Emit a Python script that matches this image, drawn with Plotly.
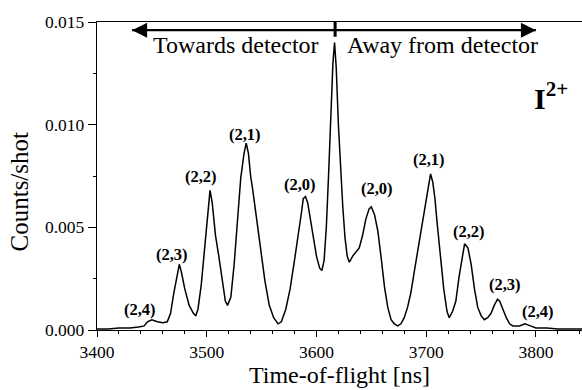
import plotly.graph_objects as go

# Time-of-flight spectrum of I2+ fragments
tof_ns = [3400, 3410, 3420, 3430, 3438, 3443, 3446, 3450, 3455, 3460, 3464, 3467,
          3470, 3473, 3475, 3477, 3480, 3484, 3488, 3490, 3492, 3495, 3498, 3501,
          3503, 3505, 3508, 3511, 3514, 3517, 3519, 3522, 3525, 3528, 3531, 3534,
          3536, 3538, 3540, 3542, 3545, 3549, 3553, 3557, 3561, 3565, 3568, 3572,
          3576, 3580, 3583, 3586, 3588, 3590, 3592, 3594, 3597, 3600, 3603, 3605,
          3607, 3609, 3611, 3613, 3615, 3616.5, 3618, 3620, 3622, 3624, 3626, 3628,
          3630, 3633, 3636, 3639, 3642, 3645, 3648, 3650, 3653, 3656, 3659, 3662,
          3665, 3668, 3671, 3674, 3677, 3680, 3683, 3686, 3689, 3692, 3695, 3698,
          3701, 3704, 3706, 3708, 3710, 3713, 3716, 3719, 3721, 3724, 3727, 3730,
          3733, 3735, 3738, 3741, 3744, 3747, 3750, 3753, 3756, 3759, 3762, 3765,
          3767, 3770, 3773, 3776, 3779, 3785, 3790, 3795, 3800, 3810, 3820, 3830, 3842]
counts = [0.00005, 0.00005, 0.0001, 0.0001, 0.00015, 0.0002, 0.0004, 0.0005, 0.0004,
          0.00035, 0.0004, 0.0008, 0.0018, 0.0026, 0.0032, 0.0028, 0.0020, 0.0012,
          0.0008, 0.0007, 0.0010, 0.0022, 0.0040, 0.0058, 0.0068, 0.0062, 0.0046,
          0.0036, 0.0024, 0.0014, 0.0012, 0.0016, 0.0032, 0.0054, 0.0074, 0.0086,
          0.0091, 0.0086, 0.0075, 0.0068, 0.0056, 0.0040, 0.0024, 0.0012, 0.0006,
          0.0003, 0.0004, 0.0010, 0.0020, 0.0034, 0.0044, 0.0056, 0.0064, 0.0065,
          0.0062, 0.0056, 0.0046, 0.0036, 0.0030, 0.0029, 0.0034, 0.0050, 0.0075,
          0.0105, 0.0130, 0.0140, 0.0128, 0.0100, 0.0078, 0.0060, 0.0045, 0.0036,
          0.0033, 0.0036, 0.0038, 0.0040, 0.0046, 0.0054, 0.0059, 0.0060, 0.0056,
          0.0048, 0.0035, 0.0021, 0.0011, 0.0005, 0.0003, 0.0002, 0.0003, 0.0006,
          0.0011, 0.0018, 0.0028, 0.0038, 0.0048, 0.0058, 0.0068, 0.0076, 0.0072,
          0.0064, 0.0052, 0.0036, 0.0020, 0.0009, 0.0006, 0.0009, 0.0014, 0.0026,
          0.0037, 0.0042, 0.0040, 0.0032, 0.0020, 0.0011, 0.0007, 0.0005, 0.0006,
          0.0008, 0.0012, 0.0015, 0.0014, 0.0010, 0.0006, 0.0003, 0.0002, 0.0002,
          0.0003, 0.0002, 0.0001, 0.0001, 0.00005, 0.00005, 0.00005]

# Peak assignments and label anchor points
peak_labels = ["(2,4)", "(2,3)", "(2,2)", "(2,1)", "(2,0)",
               "(2,0)", "(2,1)", "(2,2)", "(2,3)", "(2,4)"]
label_x = [3439, 3468, 3495, 3535, 3585, 3655, 3703, 3739, 3772, 3802]
label_y = [0.00098, 0.00366, 0.00748, 0.0095, 0.00707,
           0.0069, 0.0083, 0.0048, 0.0022, 0.0009]

x_ticks = [3400, 3500, 3600, 3700, 3800]
y_ticks = [0.000, 0.005, 0.010, 0.015]

# Direction arrow: start/end times, height, and the zero-velocity marker time
arrow_x = [3428, 3804]
arrow_y = 0.0146
center_x = 3617

SERIF = "Liberation Serif"

fig = go.Figure()
fig.add_trace(go.Scatter(x=tof_ns, y=counts, mode="lines",
                         line=dict(color="black", width=1.5),
                         hoverinfo="skip", showlegend=False))

# Arrow shaft with barbed heads at both ends
fig.add_shape(type="line", x0=arrow_x[0] + 4, x1=arrow_x[1] - 4, y0=arrow_y, y1=arrow_y,
              xref="x", yref="y", line=dict(color="black", width=2.2))
fig.add_trace(go.Scatter(x=[arrow_x[0] + 4, arrow_x[1] - 4], y=[arrow_y, arrow_y],
                         mode="markers",
                         marker=dict(symbol=["arrow-left", "arrow-right"], size=15,
                                     color="black", line=dict(width=0)),
                         hoverinfo="skip", showlegend=False))
fig.add_shape(type="line", x0=center_x, x1=center_x, y0=0.0150, y1=0.01428,
              xref="x", yref="y", line=dict(color="black", width=3))

annotations = []
for lab, lx, ly in zip(peak_labels, label_x, label_y):
    annotations.append(dict(x=lx, y=ly, text=f"<b>{lab}</b>", showarrow=False,
                            font=dict(family=SERIF, size=16.5, color="black")))

annotations.append(dict(x=3527, y=0.01388, text="Towards detector", showarrow=False,
                        font=dict(family=SERIF, size=24, color="black")))
annotations.append(dict(x=3715, y=0.01388, text="Away from detector", showarrow=False,
                        font=dict(family=SERIF, size=24, color="black")))
annotations.append(dict(x=3814, y=0.0114, text="<b>I<sup>2+</sup></b>", showarrow=False,
                        font=dict(family=SERIF, size=30, color="black")))
# Y-axis title, set slightly below the axis midpoint
annotations.append(dict(xref="paper", yref="paper", x=-0.16, y=0.451,
                        xanchor="center", yanchor="middle",
                        text="Counts/shot", textangle=-90, showarrow=False,
                        font=dict(family=SERIF, size=25, color="black")))

fig.update_layout(
    width=582, height=390,
    margin=dict(l=97, r=0, t=22, b=60),
    paper_bgcolor="white", plot_bgcolor="white",
    font=dict(family=SERIF, color="black"),
    annotations=annotations,
    xaxis=dict(range=[3400, 3842], tickvals=x_ticks, ticks="outside", ticklen=6,
               tickwidth=1.2, tickcolor="black", showline=True, linecolor="black",
               linewidth=1.4, mirror=True, showgrid=False, zeroline=False,
               tickfont=dict(family=SERIF, size=17.5, color="black"),
               minor=dict(dtick=20, ticks="outside", ticklen=3, tickcolor="black"),
               title=dict(text="Time-of-flight [ns]",
                          font=dict(family=SERIF, size=24, color="black"),
                          standoff=3)),
    yaxis=dict(range=[0, 0.015], tickvals=y_ticks, tickformat=".3f", ticks="outside",
               ticklen=8, tickwidth=1.2, tickcolor="black", showline=True,
               linecolor="black", linewidth=1.4, showgrid=False, zeroline=False,
               tickfont=dict(family=SERIF, size=17.5, color="black"),
               minor=dict(dtick=0.0025, ticks="outside", ticklen=3, tickcolor="black")),
)

fig.write_html("out.html")
